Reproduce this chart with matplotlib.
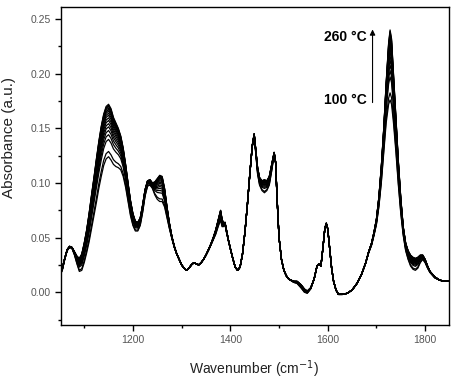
import matplotlib.pyplot as plt
import numpy as np
from matplotlib.ticker import MultipleLocator

wavenumber = [1050, 1055, 1060, 1065, 1070, 1075, 1080, 1085, 1090, 1095,
              1100, 1105, 1110, 1115, 1120, 1125, 1130, 1135, 1140, 1145,
              1150, 1155, 1160, 1165, 1170, 1175, 1180, 1185, 1190, 1195,
              1200, 1205, 1210, 1215, 1220, 1225, 1230, 1235, 1240, 1245,
              1250, 1255, 1260, 1265, 1270, 1275, 1280, 1285, 1290, 1295,
              1300, 1305, 1310, 1315, 1320, 1325, 1330, 1335, 1340, 1345,
              1350, 1355, 1360, 1365, 1370, 1375, 1380, 1383, 1386, 1389,
              1392, 1396, 1400, 1405, 1410, 1415, 1420, 1425, 1430, 1435,
              1440, 1445, 1449, 1452, 1456, 1460, 1465, 1470, 1475, 1480,
              1485, 1490, 1493, 1496, 1500, 1505, 1510, 1515, 1520, 1530,
              1537, 1545, 1552, 1558, 1565, 1572, 1578, 1582, 1586, 1590,
              1594, 1597, 1600, 1604, 1608, 1612, 1617, 1622, 1630, 1640,
              1650, 1660, 1670, 1678, 1684, 1690, 1695, 1700, 1705, 1710,
              1715, 1720, 1725, 1728, 1731, 1735, 1740, 1745, 1750, 1755,
              1760, 1765, 1770, 1775, 1780, 1785, 1790, 1795, 1800, 1805,
              1810, 1820, 1830, 1840, 1850]

abs_100 = [0.015, 0.020, 0.030, 0.038, 0.041, 0.040, 0.034, 0.026, 0.019, 0.020,
           0.027, 0.036, 0.046, 0.058, 0.070, 0.082, 0.095, 0.106, 0.116, 0.122,
           0.124, 0.121, 0.117, 0.115, 0.114, 0.112, 0.106, 0.096, 0.083, 0.070,
           0.061, 0.056, 0.056, 0.061, 0.073, 0.088, 0.097, 0.098, 0.095, 0.089,
           0.085, 0.083, 0.083, 0.078, 0.068, 0.058, 0.049, 0.041, 0.035, 0.030,
           0.025, 0.022, 0.020, 0.022, 0.025, 0.027, 0.026, 0.025, 0.027, 0.030,
           0.034, 0.038, 0.043, 0.048, 0.053, 0.060, 0.066, 0.060, 0.060, 0.062,
           0.055, 0.047, 0.040, 0.031, 0.023, 0.020, 0.023, 0.035, 0.055, 0.080,
           0.108, 0.133, 0.143, 0.128, 0.108, 0.098, 0.093, 0.091, 0.093, 0.098,
           0.111, 0.126, 0.118, 0.085, 0.050, 0.030, 0.020, 0.015, 0.012, 0.009,
           0.008, 0.004, 0.000, -0.001, 0.003, 0.012, 0.024, 0.026, 0.024, 0.040,
           0.058, 0.063, 0.058, 0.040, 0.022, 0.010, 0.002, -0.002, -0.002, -0.001,
           0.002, 0.008, 0.017, 0.027, 0.036, 0.043, 0.052, 0.062, 0.078, 0.100,
           0.128, 0.155, 0.172, 0.176, 0.172, 0.155, 0.128, 0.098, 0.072, 0.052,
           0.038, 0.030, 0.024, 0.021, 0.020, 0.022, 0.027, 0.030, 0.027, 0.022,
           0.018, 0.013, 0.011, 0.010, 0.010]

abs_260 = [0.017, 0.022, 0.031, 0.039, 0.042, 0.041, 0.037, 0.033, 0.031, 0.035,
           0.045, 0.057, 0.072, 0.089, 0.105, 0.122, 0.138, 0.152, 0.163, 0.170,
           0.172, 0.168, 0.160, 0.155, 0.150, 0.143, 0.132, 0.117, 0.100, 0.084,
           0.072, 0.065, 0.064, 0.068, 0.080, 0.094, 0.102, 0.103, 0.100, 0.101,
           0.104, 0.107, 0.106, 0.095, 0.078, 0.063, 0.051, 0.042, 0.035, 0.030,
           0.025, 0.022, 0.020, 0.022, 0.025, 0.027, 0.026, 0.025, 0.027, 0.030,
           0.034, 0.039, 0.044, 0.050, 0.057, 0.066, 0.075, 0.067, 0.063, 0.064,
           0.057, 0.048, 0.040, 0.031, 0.023, 0.020, 0.023, 0.035, 0.055, 0.080,
           0.108, 0.134, 0.145, 0.132, 0.114, 0.105, 0.102, 0.103, 0.102, 0.106,
           0.117, 0.128, 0.119, 0.086, 0.050, 0.030, 0.020, 0.015, 0.012, 0.010,
           0.010, 0.007, 0.003, 0.001, 0.004, 0.012, 0.024, 0.026, 0.024, 0.040,
           0.058, 0.063, 0.058, 0.040, 0.022, 0.010, 0.002, -0.002, -0.002, -0.001,
           0.002, 0.008, 0.017, 0.027, 0.037, 0.045, 0.055, 0.067, 0.087, 0.115,
           0.150, 0.192, 0.228, 0.240, 0.232, 0.200, 0.160, 0.120, 0.086, 0.060,
           0.045, 0.038, 0.034, 0.032, 0.031, 0.032, 0.034, 0.034, 0.030, 0.024,
           0.019, 0.014, 0.011, 0.010, 0.010]

# temperatures of the series, and where each sits between the two end spectra
temperatures = [100, 110, 120, 130, 140, 150, 160, 170, 180, 190, 200, 210, 220, 230, 240, 250, 260]
position = [0.0, 0.1, 0.33, 0.42, 0.5, 0.57, 0.63, 0.69, 0.74, 0.79, 0.83, 0.87, 0.9, 0.93, 0.96, 0.98, 1.0]

plt.rcParams['font.family'] = ['Liberation Sans', 'DejaVu Sans']

wn = np.array(wavenumber)
lo = np.array(abs_100)
hi = np.array(abs_260)

fig = plt.figure(figsize=(4.54, 3.79), dpi=100)
ax = fig.add_axes([0.134, 0.1425, 0.855, 0.839])

for T, p in zip(temperatures, position):
    ax.plot(wn, lo + p * (hi - lo), color='black', lw=0.9)

ax.set_xlim(1052, 1849)
ax.set_ylim(-0.030, 0.261)
ax.xaxis.set_major_locator(MultipleLocator(200))
ax.xaxis.set_minor_locator(MultipleLocator(100))
ax.yaxis.set_major_locator(MultipleLocator(0.05))
ax.yaxis.set_minor_locator(MultipleLocator(0.025))
ax.yaxis.set_major_formatter(plt.FormatStrFormatter('%.2f'))
ax.tick_params(which='both', direction='out', top=False, right=False,
               labelsize=7.5, labelcolor='#555555')
ax.tick_params(which='major', length=4, width=1)
ax.tick_params(which='minor', length=2.5, width=1)
for s in ax.spines.values():
    s.set_linewidth(1.0)

ax.set_xlabel('Wavenumber (cm$^{-1}$)', fontsize=10, color='#222222')
ax.set_ylabel('Absorbance (a.u.)', fontsize=11, color='#222222')
ax.xaxis.set_label_coords(0.497, -0.104)
ax.yaxis.set_label_coords(-0.115, 0.59)

# temperature arrow
ax.annotate('', xy=(1692, 0.243), xytext=(1692, 0.171),
            arrowprops=dict(arrowstyle='-|>', color='black', lw=0.8,
                            mutation_scale=8))
ax.text(1680, 0.234, '260 °C', ha='right', va='center', fontsize=10, fontweight='bold')
ax.text(1680, 0.176, '100 °C', ha='right', va='center', fontsize=10, fontweight='bold')

fig.savefig('out.png', dpi=100)
